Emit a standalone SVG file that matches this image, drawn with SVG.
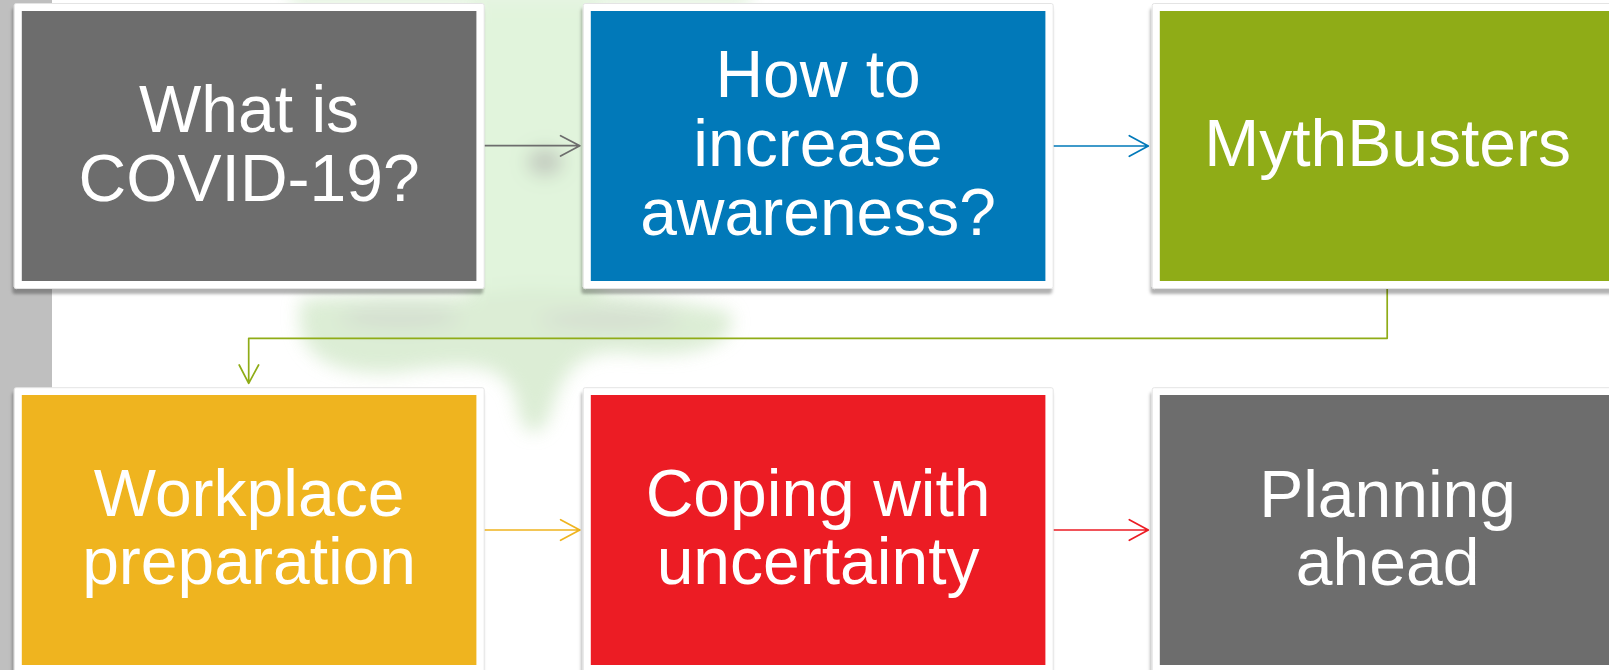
<svg xmlns="http://www.w3.org/2000/svg" width="1609" height="670" viewBox="0 0 1609 670">
<style>
.frame{fill:#ffffff;stroke:#e4e4e4;stroke-width:1;filter:url(#shadow)}
.lbl{font-family:"Liberation Sans",Arial,sans-serif;font-size:66px;fill:#ffffff;text-anchor:middle}
.ln{fill:none;stroke-width:1.7;stroke-linecap:round;stroke-linejoin:round}
</style>
<defs>
<filter id="shadow" x="-5%" y="-5%" width="110%" height="115%">
<feDropShadow dx="-1.5" dy="5" stdDeviation="1.6" flood-color="#000" flood-opacity="0.3"/>
</filter>
<filter id="blur" x="-20%" y="-20%" width="140%" height="140%">
<feGaussianBlur stdDeviation="9"/>
</filter>
</defs>
<rect x="0" y="0" width="1609" height="670" fill="#ffffff"/>
<rect x="0" y="0" width="52" height="670" fill="#bfbfbf"/>
<g id="watermark" filter="url(#blur)" opacity="0.85">
<rect x="470" y="-20" width="130" height="330" fill="#dcf3d6"/>
<rect x="290" y="-20" width="460" height="28" fill="#e2f3dd"/>
<path d="M300,300 C380,290 450,300 520,290 C600,290 680,300 730,312 C742,340 700,362 620,352 C585,352 565,362 550,415 C540,440 522,440 516,400 C505,362 470,362 400,372 C330,378 300,352 300,322 Z" fill="#d6eace"/>
<ellipse cx="545" cy="162" rx="18" ry="14" fill="#b9c3b5"/>
<ellipse cx="400" cy="318" rx="60" ry="12" fill="#cfdbca"/>
<ellipse cx="610" cy="320" rx="70" ry="12" fill="#d0dccb"/>
</g>
<g id="connectors">
<path class="ln" stroke="#6d6d6d" d="M484.5,145.7 H579.8 M560.6,135.7 L579.8,145.7 L560.6,156"/>
<path class="ln" stroke="#0179b9" d="M1052.4,146 H1148.3 M1129.3,135.7 L1148.3,146 L1129.3,156.3"/>
<path class="ln" stroke="#8fac17" d="M1387.2,288 V338.3 H248.7 V383.3 M239.2,365 L248.7,383.3 L258.6,365"/>
<path class="ln" stroke="#efb41f" d="M484.5,530 H579.8 M560.6,519.7 L579.8,530 L560.6,540.3"/>
<path class="ln" stroke="#ec1c24" d="M1052.4,530 H1148.3 M1129.3,519.7 L1148.3,530 L1129.3,540.3"/>
</g>
<g id="node1">
<rect class="frame" x="14.2" y="3.5" width="470" height="285" rx="2"/>
<rect x="21.8" y="11" width="454.6" height="270" fill="#6d6d6d"/>
<text class="lbl" x="249.1" y="131.7">What is</text>
<text class="lbl" x="249.1" y="201">COVID-19?</text>
</g>
<g id="node2">
<rect class="frame" x="583.2" y="3.5" width="470" height="285" rx="2"/>
<rect x="590.8" y="11" width="454.6" height="270" fill="#0179b9"/>
<text class="lbl" x="818.1" y="96.7">How to</text>
<text class="lbl" x="818.1" y="165.7">increase</text>
<text class="lbl" x="818.1" y="235">awareness?</text>
</g>
<g id="node3">
<rect class="frame" x="1152.2" y="3.5" width="470" height="285" rx="2"/>
<rect x="1159.8" y="11" width="454.6" height="270" fill="#8fac17"/>
<text class="lbl" x="1387.6" y="165.7">MythBusters</text>
</g>
<g id="node4">
<rect class="frame" x="14.2" y="387.7" width="470" height="285" rx="2"/>
<rect x="21.8" y="395" width="454.6" height="270" fill="#efb41f"/>
<text class="lbl" x="249.1" y="515.7">Workplace</text>
<text class="lbl" x="249.1" y="584.3">preparation</text>
</g>
<g id="node5">
<rect class="frame" x="583.2" y="387.7" width="470" height="285" rx="2"/>
<rect x="590.8" y="395" width="454.6" height="270" fill="#ec1c24"/>
<text class="lbl" x="818.1" y="515.7">Coping with</text>
<text class="lbl" x="818.1" y="584.3">uncertainty</text>
</g>
<g id="node6">
<rect class="frame" x="1152.2" y="387.7" width="470" height="285" rx="2"/>
<rect x="1159.8" y="395" width="454.6" height="270" fill="#6d6d6d"/>
<text class="lbl" x="1387.6" y="516.7">Planning</text>
<text class="lbl" x="1387.6" y="585">ahead</text>
</g>
</svg>
